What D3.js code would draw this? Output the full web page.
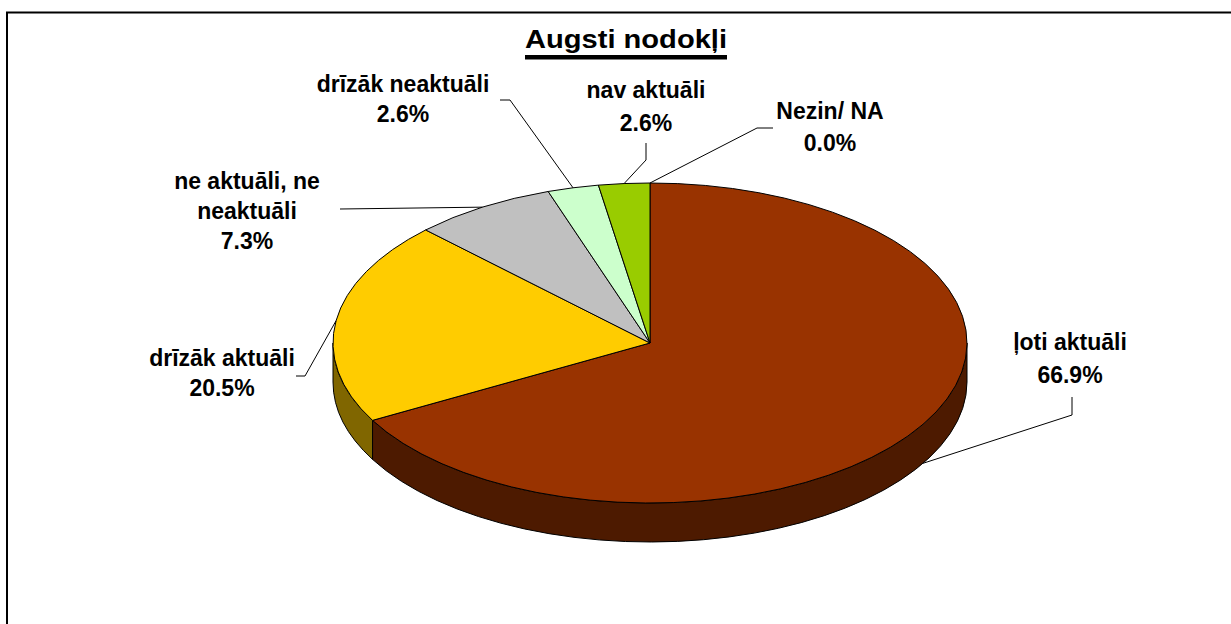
<!DOCTYPE html>
<html>
<head>
<meta charset="utf-8">
<script src="https://cdn.jsdelivr.net/npm/d3@7"></script>
<style>
  body { margin: 0; background: #fff; }
  text { font-family: "Liberation Sans", Arial, sans-serif; font-weight: bold; fill: #000; }
</style>
</head>
<body>
<div id="chart"></div>
<script>
// DATA
const categories = ["ļoti aktuāli", "drīzāk aktuāli", "ne aktuāli, ne neaktuāli", "drīzāk neaktuāli", "nav aktuāli", "Nezin/ NA"];
const values = [66.9, 20.5, 7.3, 2.6, 2.6, 0.0];
const labelLines = [["ļoti aktuāli"], ["drīzāk aktuāli"], ["ne aktuāli, ne", "neaktuāli"], ["drīzāk neaktuāli"], ["nav aktuāli"], ["Nezin/ NA"]];
const title = "Augsti nodokļi";

// STYLE / LAYOUT
const width = 1231, height = 624;
const topColors = ["#993300", "#FFCC00", "#C0C0C0", "#CCFFCC", "#99CC00", "#3366FF"];
const sideColors = ["#4D1A00", "#806600", "#606060", "#668066", "#4D6600", "#1A3380"];
const cx = 650, cy = 343, rx = 317, ry = 160, depth = 39;

// label centre x, first baseline y, line step
const labelPos = [[1070, 350, 33], [222, 366, 30], [247, 189, 30], [403, 92, 30], [646, 98, 33], [830, 119, 32]];
// leader line: start near label, elbow
const leaderPts = [
  [[1072, 397], [1072, 415]],
  [[296, 376], [305, 376]],
  [[340, 209], [340, 209]],
  [[500, 100], [510, 100]],
  [[646, 143], [646, 160]],
  [[773, 128], [757, 128]]
];

const svg = d3.select("#chart").append("svg")
  .attr("width", width)
  .attr("height", height);

// frame
svg.append("rect")
  .attr("x", 7).attr("y", 12.5)
  .attr("width", width + 20).attr("height", height + 20)
  .attr("fill", "none")
  .attr("stroke", "#000")
  .attr("stroke-width", 2);

const pie = d3.pie().sort(null).startAngle(0).endAngle(2 * Math.PI).value(d => d);
const arcs = pie(values);

function pt(a, dy = 0) {
  return [cx + rx * Math.sin(a), cy - ry * Math.cos(a) + dy];
}

// side walls (front half only)
const sides = svg.append("g");
arcs.forEach((d, i) => {
  const s = Math.max(d.startAngle, Math.PI / 2);
  const e = Math.min(d.endAngle, 3 * Math.PI / 2);
  if (e - s <= 0) return;
  const p0 = pt(s), p1 = pt(e), q1 = pt(e, depth), q0 = pt(s, depth);
  const large = (e - s) > Math.PI ? 1 : 0;
  const path = `M${p0}A${rx},${ry} 0 ${large} 1 ${p1}L${q1}A${rx},${ry} 0 ${large} 0 ${q0}Z`;
  sides.append("path")
    .attr("d", path)
    .attr("fill", sideColors[i])
    .attr("stroke", "#000")
    .attr("stroke-width", 1)
    .attr("stroke-linejoin", "round");
});

// top faces
const tops = svg.append("g");
arcs.forEach((d, i) => {
  if (d.endAngle - d.startAngle <= 0) return;
  const p0 = pt(d.startAngle), p1 = pt(d.endAngle);
  const large = (d.endAngle - d.startAngle) > Math.PI ? 1 : 0;
  tops.append("path")
    .attr("d", `M${cx},${cy}L${p0}A${rx},${ry} 0 ${large} 1 ${p1}Z`)
    .attr("fill", topColors[i])
    .attr("stroke", "#000")
    .attr("stroke-width", 1)
    .attr("stroke-linejoin", "round");
});

// leader lines
const fmt = d3.format(".1f");
arcs.forEach((d, i) => {
  const mid = (d.startAngle + d.endAngle) / 2;
  const front = Math.cos(mid) < 0;
  const end = pt(mid, front ? depth : 0);
  const pts = [leaderPts[i][0], leaderPts[i][1], end];
  svg.append("path")
    .attr("d", d3.line()(pts))
    .attr("fill", "none")
    .attr("stroke", "#000")
    .attr("stroke-width", 1);
});

// labels
arcs.forEach((d, i) => {
  const lines = labelLines[i].concat([fmt(values[i]) + "%"]);
  const [lx, ly, step] = labelPos[i];
  const t = svg.append("text")
    .attr("text-anchor", "middle")
    .attr("font-size", 23);
  lines.forEach((s, j) => {
    t.append("tspan").attr("x", lx).attr("y", ly + j * step).text(s);
  });
});

// title (a bit wider than the font's natural width)
const titleW = 202;
svg.append("text")
  .attr("x", 626).attr("y", 48)
  .attr("text-anchor", "middle")
  .attr("font-size", 25)
  .attr("textLength", titleW)
  .attr("lengthAdjust", "spacingAndGlyphs")
  .text(title);
svg.append("rect")
  .attr("x", 626 - titleW / 2).attr("y", 55)
  .attr("width", titleW).attr("height", 4.5)
  .attr("fill", "#000");
</script>
</body>
</html>
